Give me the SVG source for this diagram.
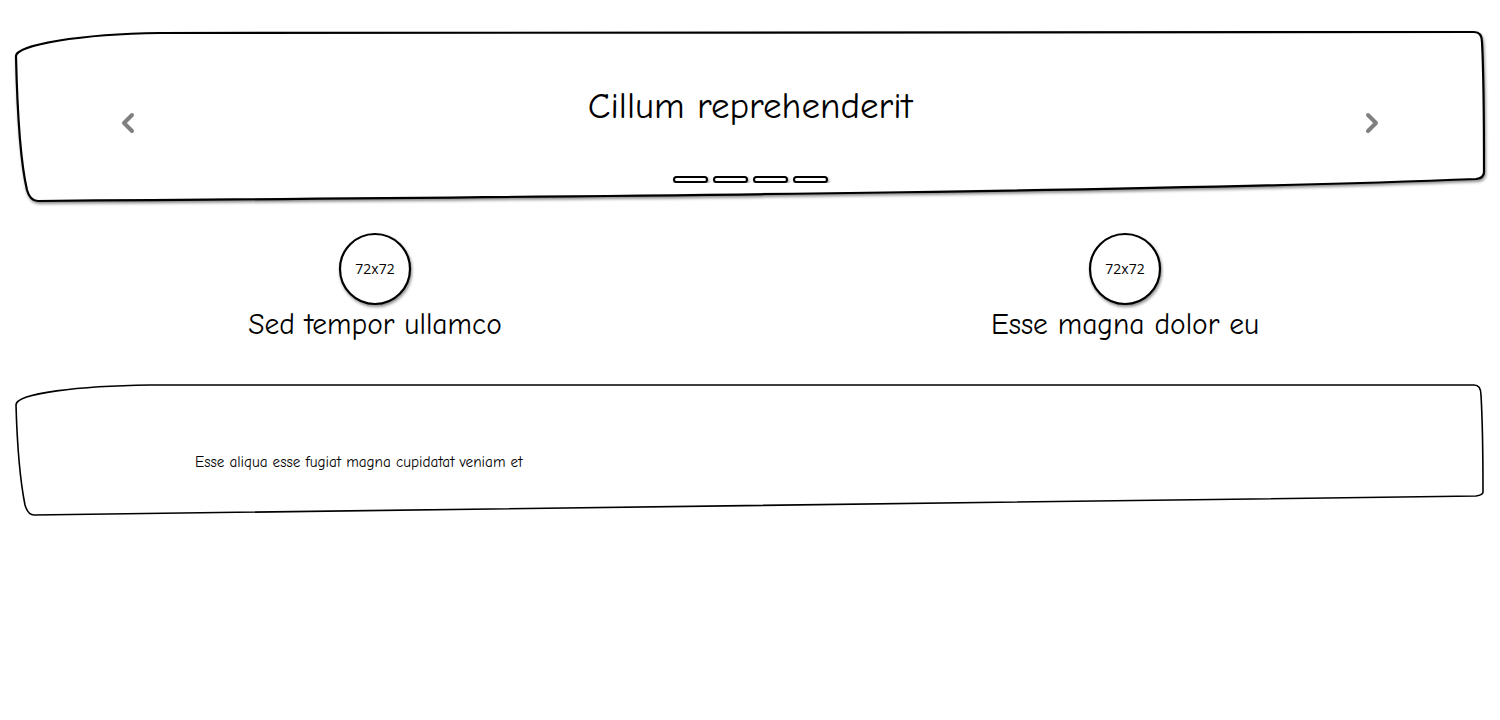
<svg xmlns="http://www.w3.org/2000/svg" width="1500" height="720" viewBox="0 0 1500 720">
<defs>
<filter id="sh" x="-5%" y="-20%" width="110%" height="140%">
<feDropShadow dx="1" dy="2" stdDeviation="1.5" flood-color="#000" flood-opacity="0.45"/>
</filter>
<style>
.box{fill:#fff;stroke:#000;stroke-width:2.2}
.box2{fill:#fff;stroke:#000;stroke-width:1.6}
.hand{font-family:"Comic Neue","Comic Sans MS","Open Sans",sans-serif;fill:#000}
.chev{fill:none;stroke:#808080;stroke-width:4;stroke-linecap:round;stroke-linejoin:round}
.dot{fill:#fff;stroke:#000;stroke-width:2}
</style>
</defs>
<rect width="1500" height="720" fill="#fff"/>
<g id="carousel">
<path class="box" filter="url(#sh)" d="M16,56 C16,45 80,34 160,33 L1474,32 Q1482,32 1482,42 C1484,80 1484,140 1484,172 Q1484,178 1476,179 C1200,190 700,196 38,201 Q30,201 27,190 C20,160 17,100 16,56 Z"/>
<text class="hand" x="750" y="118" text-anchor="middle" font-size="37">Cillum reprehenderit</text>
<path class="chev" d="M132,115 L124,123 L132,131"/>
<path class="chev" d="M1368,115 L1376,123 L1368,131"/>
<g filter="url(#sh)">
<rect class="dot" x="674" y="177" width="33" height="5" rx="2.5"/>
<rect class="dot" x="714" y="177" width="33" height="5" rx="2.5"/>
<rect class="dot" x="754" y="177" width="33" height="5" rx="2.5"/>
<rect class="dot" x="794" y="177" width="33" height="5" rx="2.5"/>
</g>
</g>
<g id="feature1">
<circle class="box" filter="url(#sh)" cx="375" cy="269" r="35"/>
<text x="375" y="274" text-anchor="middle" font-family="Open Sans, sans-serif" font-size="14" fill="#000">72x72</text>
<text class="hand" x="375" y="334" text-anchor="middle" font-size="29.5">Sed tempor ullamco</text>
</g>
<g id="feature2">
<circle class="box" filter="url(#sh)" cx="1125" cy="269" r="35"/>
<text x="1125" y="274" text-anchor="middle" font-family="Open Sans, sans-serif" font-size="14" fill="#000">72x72</text>
<text class="hand" x="1125" y="334" text-anchor="middle" font-size="29.5">Esse magna dolor eu</text>
</g>
<g id="panel">
<path class="box2" d="M16,405 C16,393 80,386 150,385 L1474,385 Q1481,385 1481,395 C1483,430 1483,470 1483,492 Q1483,495 1476,496 C1200,503 700,509 34,515 Q28,515 25,505 C20,480 17,440 16,405 Z"/>
<text class="hand" x="195" y="467" font-size="15.2">Esse aliqua esse fugiat magna cupidatat veniam et</text>
</g>
</svg>
